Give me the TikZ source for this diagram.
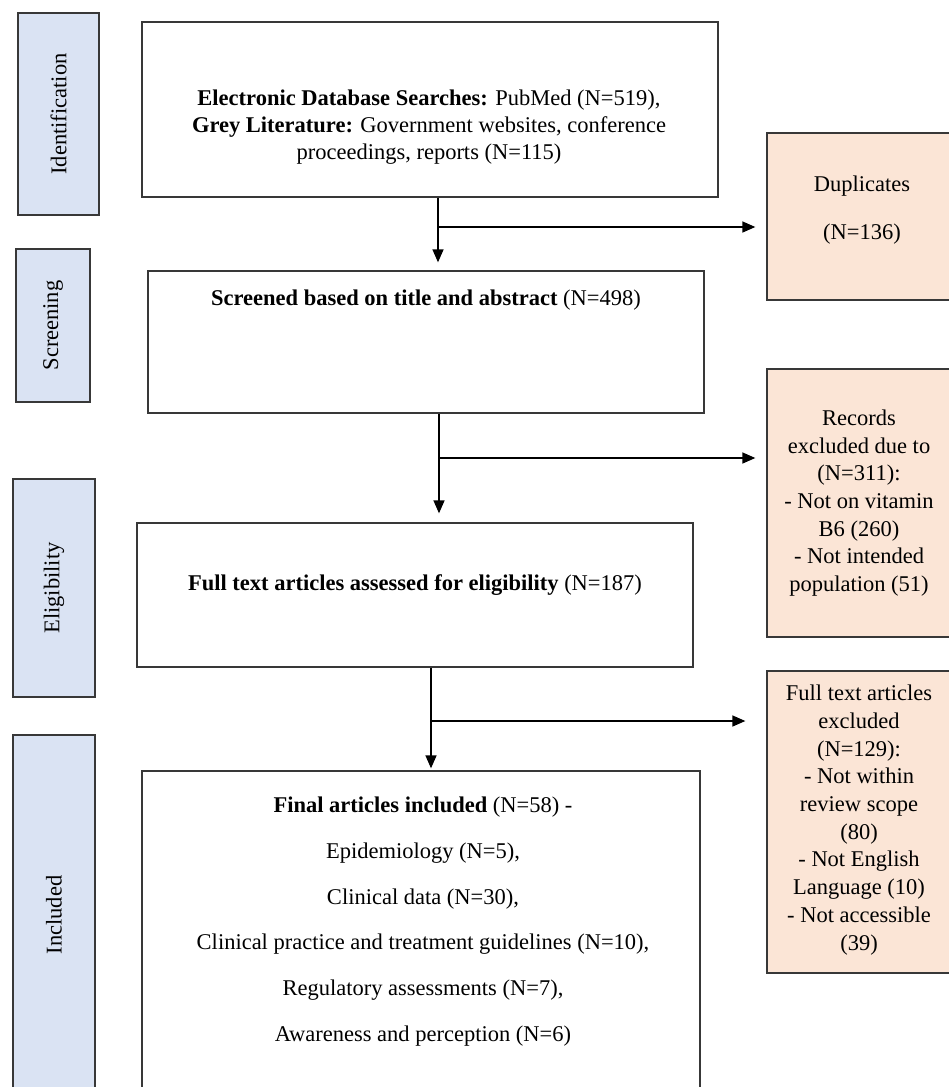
\documentclass[tikz,border=0pt]{standalone}
\usepackage{fontspec}
\setmainfont{Liberation Serif}
\usetikzlibrary{arrows.meta}
\definecolor{stageblue}{HTML}{DAE3F3}
\definecolor{exclpeach}{HTML}{FBE5D6}
\definecolor{edgegray}{HTML}{383838}
\tikzset{
  stagebox/.style={draw=edgegray, line width=1.3pt, fill=stageblue, inner sep=0pt, rotate=90,
    font=\fontsize{22.5}{27}\selectfont},
  flowbox/.style={draw=edgegray, line width=1.3pt, fill=white, inner sep=0pt},
  exclbox/.style={draw=edgegray, line width=1.3pt, fill=exclpeach, inner sep=0pt},
  bodytext/.style={align=center, font=\fontsize{22.5}{27.2}\selectfont, inner sep=0pt},
  excltext/.style={align=center, font=\fontsize{22.5}{27.7}\selectfont, inner sep=0pt},
  flowarrow/.style={draw=black, line width=1.4pt, -{Triangle[length=13pt,width=11pt]}},
}
\begin{document}
\begin{tikzpicture}[x=1pt, y=1pt]
\useasboundingbox (0,0) rectangle (948,-1087);
\fill[white] (0,0) rectangle (948,-1087);

% stage labels
\node[stagebox, minimum width=202, minimum height=81] (ident) at (58.5,-114) {Identification};
\node[stagebox, minimum width=153, minimum height=74] (screen) at (53,-325.5) {Screening};
\node[stagebox, minimum width=218, minimum height=82] (elig) at (54,-588) {Eligibility};
\node[stagebox, minimum width=360, minimum height=82] (incl) at (54,-915) {Included};

% main flow boxes
\node[flowbox, minimum width=576, minimum height=175] (b1) at (430,-109.5) {};
\node[bodytext] (t1) at (429,-127) {\textbf{Electronic Database Searches:} PubMed (N=519),\\
  \textbf{Grey Literature:} Government websites, conference\\
  proceedings, reports (N=115)};

\node[flowbox, minimum width=556, minimum height=142] (b2) at (426,-342) {};
\node[bodytext] (t2) at (426,-300) {\textbf{Screened based on title and abstract} (N=498)};

\node[flowbox, minimum width=556, minimum height=144] (b3) at (415,-595) {};
\node[bodytext] (t3) at (415,-585) {\textbf{Full text articles assessed for eligibility} (N=187)};

\node[flowbox, minimum width=558, minimum height=329] (b4) at (421,-935.5) {};
\node[bodytext, font=\fontsize{22.5}{45.8}\selectfont] (t4) at (423,-921.5) {\textbf{Final articles included} (N=58) -\\
  Epidemiology (N=5),\\
  Clinical data (N=30),\\
  Clinical practice and treatment guidelines (N=10),\\
  Regulatory assessments (N=7),\\
  Awareness and perception (N=6)};

% exclusion boxes (their right edges run past the page edge)
\node[exclbox, minimum width=220, minimum height=167] (dup) at (877,-216.5) {};
\node[excltext] (tdup) at (862,-210) {Duplicates\\[20.5pt](N=136)};
\node[exclbox, minimum width=220, minimum height=268] (rec) at (877,-503) {};
\node[excltext] (trec) at (859,-503) {Records\\
  excluded due to\\
  (N=311):\\
  - Not on vitamin\\
  B6 (260)\\
  - Not intended\\
  population (51)};
\node[exclbox, minimum width=220, minimum height=302] (ft) at (877,-822) {};
\node[excltext] (tft) at (859,-820) {Full text articles\\
  excluded\\
  (N=129):\\
  - Not within\\
  review scope\\
  (80)\\
  - Not English\\
  Language (10)\\
  - Not accessible\\
  (39)};

% connectors
\coordinate (j1) at (438,-227);
\coordinate (j2) at (439,-458);
\coordinate (j3) at (431,-721);
\draw[flowarrow, shorten >=8pt] (b1.south -| j1) -- (b2.north -| j1);
\draw[flowarrow, shorten >=11pt] (j1) -- (j1 -| dup.west);
\draw[flowarrow, shorten >=9pt] (b2.south -| j2) -- (b3.north -| j2);
\draw[flowarrow, shorten >=11pt] (j2) -- (j2 -| rec.west);
\draw[flowarrow, shorten >=2pt] (b3.south -| j3) -- (b4.north -| j3);
\draw[flowarrow, shorten >=21pt] (j3) -- (j3 -| ft.west);
\end{tikzpicture}
\end{document}
